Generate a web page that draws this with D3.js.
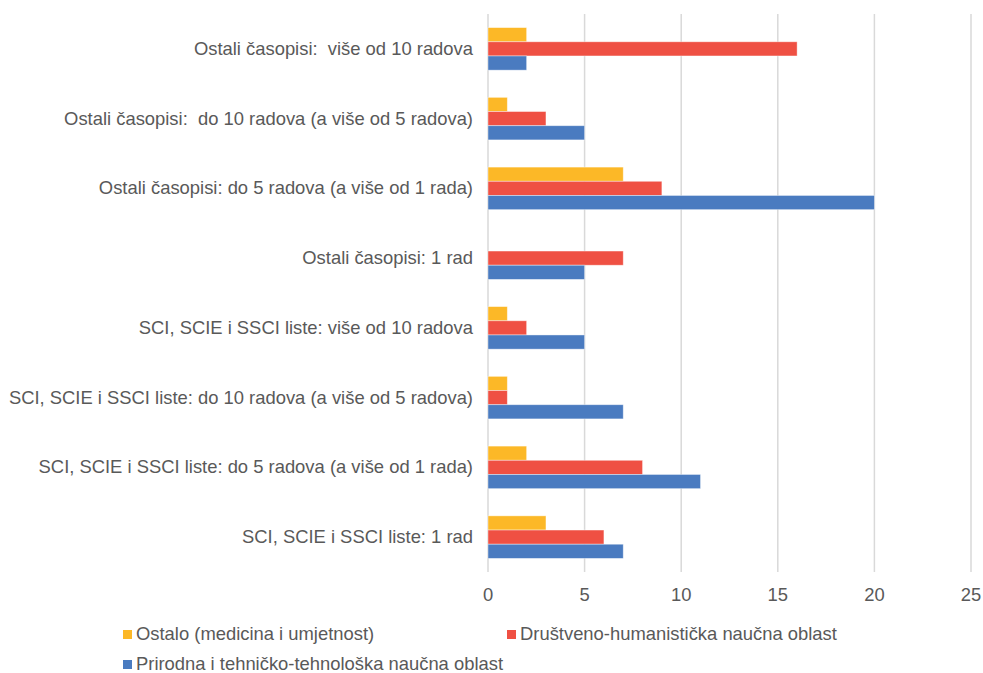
<!DOCTYPE html>
<html><head><meta charset="utf-8">
<script src="https://cdn.jsdelivr.net/npm/d3@7"></script>
<style>body{margin:0;background:#fff}svg{display:block}text{font-family:"Liberation Sans",Arial,sans-serif;fill:#595959}</style>
</head><body><svg id="c" width="983" height="673"></svg>
<script>
const categories = [
  "Ostali časopisi:  više od 10 radova",
  "Ostali časopisi:  do 10 radova (a više od 5 radova)",
  "Ostali časopisi: do 5 radova (a više od 1 rada)",
  "Ostali časopisi: 1 rad",
  "SCI, SCIE i SSCI liste: više od 10 radova",
  "SCI, SCIE i SSCI liste: do 10 radova (a više od 5 radova)",
  "SCI, SCIE i SSCI liste: do 5 radova (a više od 1 rada)",
  "SCI, SCIE i SSCI liste: 1 rad"
];
const seriesNames = ["Ostalo (medicina i umjetnost)", "Društveno-humanistička naučna oblast", "Prirodna i tehničko-tehnološka naučna oblast"];
const ostalo    = [2, 1, 7, 0, 1, 1, 2, 3];
const drustveno = [16, 3, 9, 7, 2, 1, 8, 6];
const prirodna  = [2, 5, 20, 5, 5, 7, 11, 7];
const xTicks = [0, 5, 10, 15, 20, 25];
const colors = ["#FCB827", "#EF5043", "#4A7BC0"];
const seriesVals = [ostalo, drustveno, prirodna];

const svg = d3.select("#c");
const pLeft = 488, pRight = 971, pTop = 14, pBottom = 572;
const fs = 18.4;
const x = d3.scaleLinear().domain([0, 25]).range([pLeft, pRight]);
const y = d3.scaleBand().domain(categories).range([pTop, pBottom]).paddingInner(0.39).paddingOuter(0.195);
const ys = d3.scaleBand().domain(d3.range(3)).range([0, y.bandwidth()]);

svg.append("g").selectAll("line").data(xTicks).join("line")
  .attr("x1", d => x(d)).attr("x2", d => x(d)).attr("y1", pTop).attr("y2", pBottom)
  .attr("stroke", "#d9d9d9").attr("stroke-width", 1.5);

seriesVals.forEach((vals, si) => {
  svg.append("g").selectAll("rect").data(vals).join("rect")
    .attr("x", x(0)).attr("y", (d, i) => y(categories[i]) + ys(si))
    .attr("width", d => x(d) - x(0)).attr("height", ys.bandwidth())
    .attr("fill", colors[si])
    .attr("stroke", d => d > 0 ? "rgba(255,255,255,0.5)" : "none").attr("stroke-width", 0.8);
});

svg.append("g").selectAll("text").data(xTicks).join("text")
  .attr("x", d => x(d)).attr("y", 601).attr("text-anchor", "middle")
  .attr("font-size", fs).text(d => d);

svg.append("g").selectAll("text").data(categories).join("text")
  .attr("x", 473).attr("y", d => y(d) + y.bandwidth() / 2 + 6)
  .attr("text-anchor", "end").attr("font-size", fs).style("white-space", "pre").text(d => d);

const legPos = [[123, 640], [507, 640], [123, 670]];
const lg = svg.append("g").selectAll("g").data(seriesNames).join("g")
  .attr("transform", (d, i) => `translate(${legPos[i][0]},${legPos[i][1]})`);
lg.append("rect").attr("x", 0).attr("y", -10).attr("width", 9).attr("height", 9)
  .attr("fill", (d, i) => colors[i]);
lg.append("text").attr("x", 13).attr("y", 0).attr("font-size", fs).text(d => d);
</script></body></html>
